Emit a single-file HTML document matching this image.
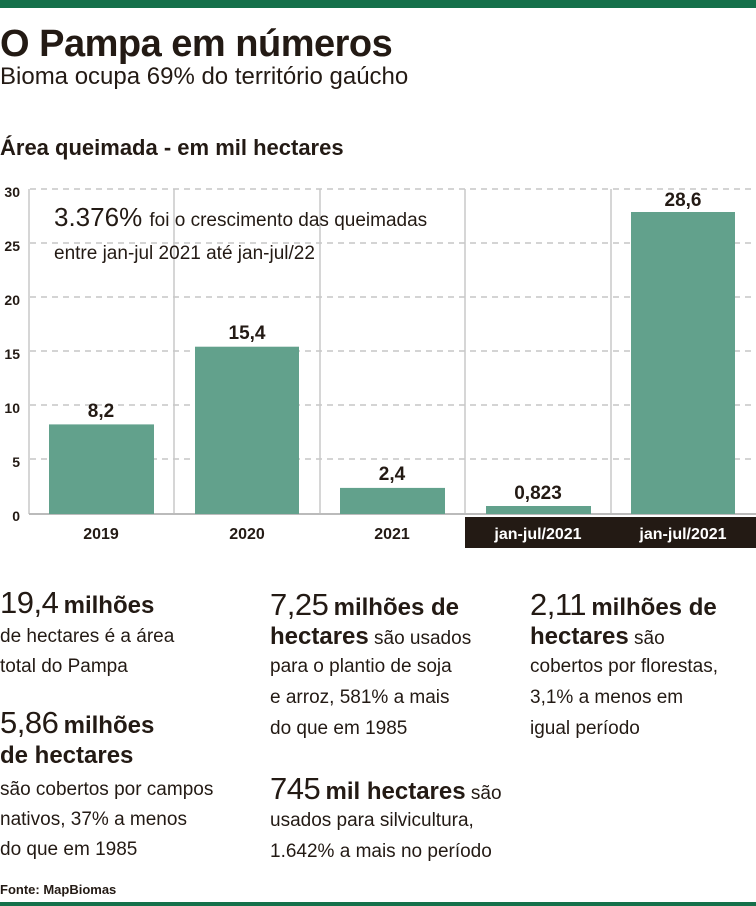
<!DOCTYPE html>
<html><head><meta charset="utf-8">
<style>
body{margin:0;width:756px;height:906px;background:#fff;overflow:hidden;position:relative;font-family:"Liberation Sans Narrow","Liberation Sans",sans-serif;color:#231a14}
.a{position:absolute;white-space:nowrap}
.t{font-size:19px;line-height:30px}
.big{font-size:31px;font-weight:normal;letter-spacing:-0.5px}
b{font-weight:bold}
</style></head><body>
<div class="a" style="left:0;top:0;width:756px;height:8px;background:#15704a"></div>
<div class="a" style="left:0;top:22px;font-size:38px;font-weight:bold;letter-spacing:-0.5px;line-height:44px">O Pampa em números</div>
<div class="a" style="left:0;top:62px;font-size:24px;line-height:30px">Bioma ocupa 69% do território gaúcho</div>
<div class="a" style="left:0;top:134px;font-size:22px;font-weight:bold;line-height:28px">Área queimada - em mil hectares</div>

<svg class="a" style="left:0;top:0" width="756" height="560" font-family="Liberation Sans Narrow, Liberation Sans, sans-serif">
<g stroke="#bbb" stroke-width="1.2" stroke-dasharray="6,5">
<line x1="30" x2="756" y1="189" y2="189"/><line x1="30" x2="756" y1="243" y2="243"/>
<line x1="30" x2="756" y1="297" y2="297"/><line x1="30" x2="756" y1="351" y2="351"/>
<line x1="30" x2="756" y1="405" y2="405"/><line x1="30" x2="756" y1="459" y2="459"/>
</g>
<g stroke="#c8c8c8" stroke-width="1.5">
<line x1="29" x2="29" y1="189" y2="514"/><line x1="174" x2="174" y1="189" y2="514"/>
<line x1="320" x2="320" y1="189" y2="514"/><line x1="465" x2="465" y1="189" y2="514"/>
<line x1="611" x2="611" y1="189" y2="514"/>
<line x1="29" x2="756" y1="514" y2="514" stroke="#bbb" stroke-width="2"/>
</g>
<g fill="#62a18c">
<rect x="49" y="424.4" width="105" height="89.6"/>
<rect x="195" y="346.7" width="104" height="167.3"/>
<rect x="340" y="487.9" width="105" height="26.1"/>
<rect x="486" y="506" width="105" height="8"/>
<rect x="631" y="212" width="104" height="302"/>
</g>
<g font-size="14" font-weight="bold" text-anchor="end" fill="#231a14">
<text x="20" y="197">30</text><text x="20" y="251">25</text><text x="20" y="305">20</text>
<text x="20" y="359">15</text><text x="20" y="413">10</text><text x="20" y="467">5</text><text x="20" y="521">0</text>
</g>
<g font-size="19" font-weight="bold" text-anchor="middle" fill="#231a14">
<text x="101" y="417">8,2</text><text x="247" y="339">15,4</text><text x="392" y="480">2,4</text>
<text x="538" y="499">0,823</text><text x="683" y="206">28,6</text>
</g>
<rect x="465" y="517" width="291" height="31" fill="#231a14"/>
<g font-size="16" font-weight="bold" text-anchor="middle">
<text x="101" y="539" fill="#231a14">2019</text><text x="247" y="539" fill="#231a14">2020</text>
<text x="392" y="539" fill="#231a14">2021</text>
<text x="538" y="539" fill="#fff">jan-jul/2021</text><text x="683" y="539" fill="#fff">jan-jul/2021</text>
</g>
<text x="54" y="226" font-size="26" fill="#231a14">3.376% <tspan font-size="19">foi o crescimento das queimadas</tspan></text>
<text x="54" y="259" font-size="19" fill="#231a14">entre jan-jul 2021 até jan-jul/22</text>
</svg>

<div class="a t" style="left:0;top:588px"><span class="big">19,4</span> <b style="font-size:24px">milhões</b></div>
<div class="a t" style="left:0;top:622px">de hectares é a área</div>
<div class="a t" style="left:0;top:652px">total do Pampa</div>
<div class="a t" style="left:0;top:708px"><span class="big">5,86</span> <b style="font-size:24px">milhões</b></div>
<div class="a t" style="left:0;top:741px"><b style="font-size:24px">de hectares</b></div>
<div class="a t" style="left:0;top:775px">são cobertos por campos</div>
<div class="a t" style="left:0;top:805px">nativos, 37% a menos</div>
<div class="a t" style="left:0;top:835px">do que em 1985</div>

<div class="a t" style="left:270px;top:590px"><span class="big">7,25</span> <b style="font-size:24px">milhões de</b></div>
<div class="a t" style="left:270px;top:622px"><b style="font-size:24px">hectares</b> são usados</div>
<div class="a t" style="left:270px;top:652px">para o plantio de soja</div>
<div class="a t" style="left:270px;top:683px">e arroz, 581% a mais</div>
<div class="a t" style="left:270px;top:714px">do que em 1985</div>
<div class="a t" style="left:270px;top:774px"><span class="big">745</span> <b style="font-size:24px">mil hectares</b> são</div>
<div class="a t" style="left:270px;top:806px">usados para silvicultura,</div>
<div class="a t" style="left:270px;top:837px">1.642% a mais no período</div>

<div class="a t" style="left:530px;top:590px"><span class="big">2,11</span> <b style="font-size:24px">milhões de</b></div>
<div class="a t" style="left:530px;top:622px"><b style="font-size:24px">hectares</b> são</div>
<div class="a t" style="left:530px;top:652px">cobertos por florestas,</div>
<div class="a t" style="left:530px;top:683px">3,1% a menos em</div>
<div class="a t" style="left:530px;top:714px">igual período</div>

<div class="a" style="left:0;top:882px;font-size:13px;font-weight:bold;line-height:16px">Fonte: MapBiomas</div>
<div class="a" style="left:0;top:902px;width:756px;height:4px;background:#15704a"></div>
</body></html>
